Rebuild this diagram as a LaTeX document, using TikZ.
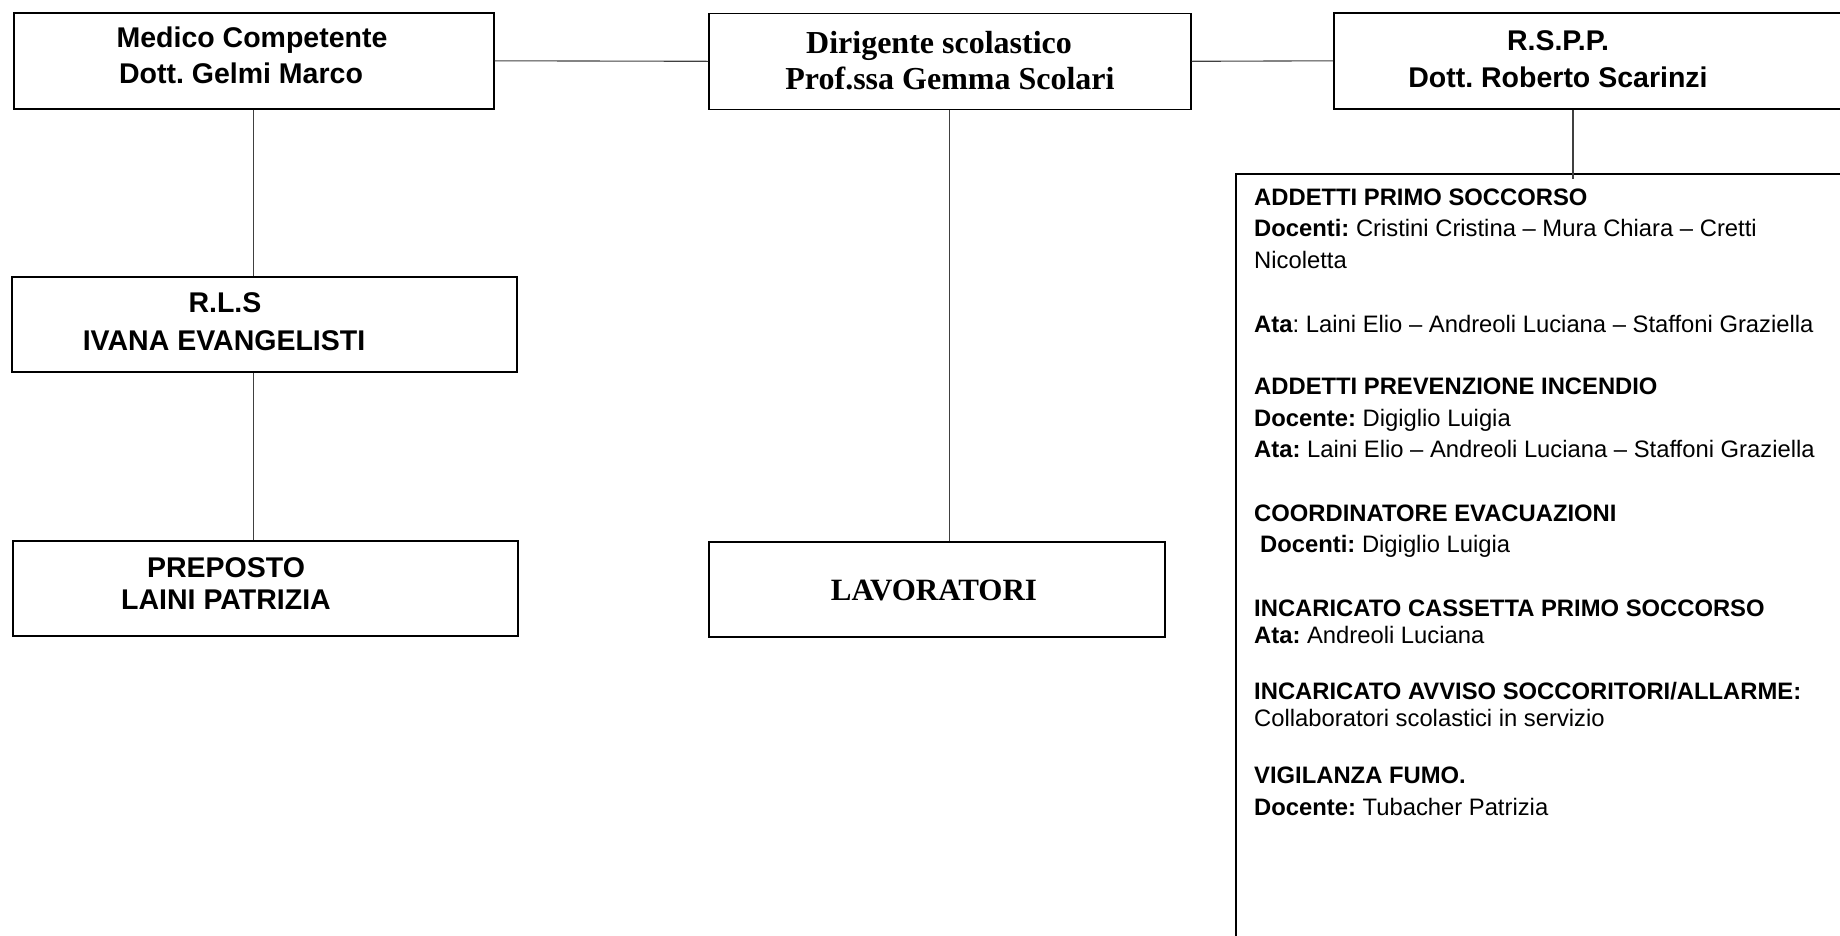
\documentclass[tikz,border=0pt]{standalone}
\usepackage{fontspec}
\setmainfont{Liberation Sans}
\newfontfamily\timesfam{Liberation Serif}
\usetikzlibrary{calc}
\frenchspacing
\newcommand\myboxfont{\fontsize{28.5}{34}\selectfont\bfseries}
\newcommand\mytimesfont{\timesfam\fontsize{32}{36}\selectfont\bfseries}
\newcommand\mylistfont{\fontsize{23.8}{28}\selectfont}
\begin{document}
\begin{tikzpicture}[x=1pt,y=-1pt,
 box/.style={draw=black, line width=1.6pt, inner sep=0pt, anchor=north west},
 conn/.style={draw=black!75, line width=1.1pt},
 lbl/.style={anchor=base, inner sep=0pt, font=\myboxfont},
 tlbl/.style={anchor=base, inner sep=0pt, font=\mytimesfont},
 item/.style={anchor=base west, inner sep=0pt, font=\mylistfont}]
\useasboundingbox (0,0) rectangle (1840,935);
\clip (0,0) rectangle (1840,935);
% boxes
\node[box, minimum width=480pt, minimum height=96pt] (medico) at (13,12) {};
\node[box, minimum width=482pt, minimum height=96pt] (dirig) at (708,12.5) {};
\node[box, minimum width=520pt, minimum height=96pt] (rspp) at (1333,12) {};
\node[box, minimum width=505pt, minimum height=95pt] (rls) at (11,276) {};
\node[box, minimum width=505pt, minimum height=95pt] (prep) at (12,540) {};
\node[box, minimum width=456pt, minimum height=95pt] (lav) at (708,541) {};
\node[box, minimum width=700pt, minimum height=800pt] (big) at (1235,173) {};
% box labels
\node[lbl] (medico1) at (252,47) {Medico Competente};
\node[lbl] (medico2) at (241,83) {Dott. Gelmi Marco};
\node[tlbl] (dirig1) at (939,53) {Dirigente scolastico};
\node[tlbl] (dirig2) at (950,89) {Prof.ssa Gemma Scolari};
\node[lbl] (rspp1) at (1558,50) {R.S.P.P.};
\node[lbl] (rspp2) at (1558,87) {Dott. Roberto Scarinzi};
\node[lbl] (rls1) at (225,312) {R.L.S};
\node[lbl] (rls2) at (224,350) {IVANA EVANGELISTI};
\node[lbl] (prep1) at (226,577) {PREPOSTO};
\node[lbl] (prep2) at (226,609) {LAINI PATRIZIA};
\node[tlbl, font=\timesfam\fontsize{31}{36}\selectfont\bfseries] (lav1) at (934,600) {LAVORATORI};
% list
\node[item] (l1) at (1254,205) {\textbf{ADDETTI PRIMO SOCCORSO}};
\node[item] (l2) at (1254,236) {\textbf{Docenti:} Cristini Cristina – Mura Chiara – Cretti};
\node[item] (l3) at (1254,268) {Nicoletta};
\node[item] (l4) at (1254,332) {\textbf{Ata}: Laini Elio – Andreoli Luciana – Staffoni Graziella};
\node[item] (l5) at (1254,394) {\textbf{ADDETTI PREVENZIONE INCENDIO}};
\node[item] (l6) at (1254,426) {\textbf{Docente:} Digiglio Luigia};
\node[item] (l7) at (1254,457) {\textbf{Ata:} Laini Elio – Andreoli Luciana – Staffoni Graziella};
\node[item] (l8) at (1254,521) {\textbf{COORDINATORE EVACUAZIONI}};
\node[item] (l9) at (1260,552) {\textbf{Docenti:} Digiglio Luigia};
\node[item] (l10) at (1254,616) {\textbf{INCARICATO CASSETTA PRIMO SOCCORSO}};
\node[item] (l11) at (1254,643) {\textbf{Ata:} Andreoli Luciana};
\node[item] (l12) at (1254,699) {\textbf{INCARICATO AVVISO SOCCORITORI/ALLARME:}};
\node[item] (l13) at (1254,726) {Collaboratori scolastici in servizio};
\node[item] (l14) at (1254,783) {\textbf{VIGILANZA FUMO.}};
\node[item] (l15) at (1254,815) {\textbf{Docente:} Tubacher Patrizia};
% connectors
\draw[conn] (medico.east) -- (dirig.west);
\draw[conn] (dirig.east) -- (rspp.west);
\draw[conn] (medico.south) -- (medico.south |- rls.north);
\draw[conn] (medico.south |- rls.south) -- (medico.south |- prep.north);
\draw[conn] (dirig.south) -- (dirig.south |- lav.north);
\coordinate (rfoot) at ($(rspp.south west)+(240,0)$);
\draw[conn] (rfoot) -- ($(rfoot |- big.north)+(0,6)$);
\end{tikzpicture}
\end{document}
